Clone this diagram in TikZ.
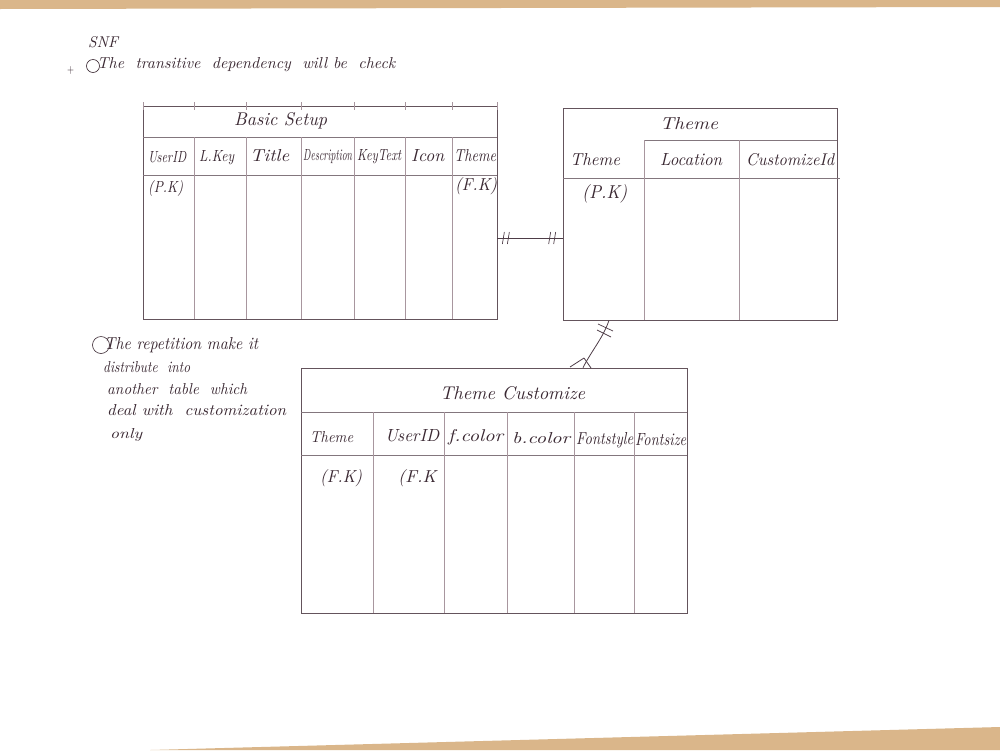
\documentclass[tikz,border=0pt]{standalone}
\usetikzlibrary{calc}
\definecolor{ink}{RGB}{58,40,50}
\definecolor{rule}{RGB}{100,84,92}
\definecolor{faint}{RGB}{168,150,158}
\definecolor{wood}{RGB}{218,182,138}
% handwritten-looking label: box width and height in pt
\newcommand\hw[3]{\resizebox{#1pt}{#2pt}{\itshape #3}}
\begin{document}
\begin{tikzpicture}[x=1pt,y=-1pt,
  hand/.style={text=ink,inner sep=0pt,anchor=west},
  tablebox/.style={draw=rule,line width=0.7pt,inner sep=0pt,fill=none},
  gridline/.style={draw=faint,line width=0.5pt},
  sepline/.style={draw=rule!80,line width=0.6pt},
  conn/.style={draw=ink!90,line width=0.8pt},
  tick/.style={draw=ink!90,line width=0.7pt}]
\useasboundingbox (0,0) rectangle (1000,750);
% sheet on the desk
\fill[white] (0,0) rectangle (1000,750);
\fill[wood] (0,0) -- (1000,0) -- (1000,7) -- (0,9) -- cycle;
\fill[wood] (150,750) -- (1000,727) -- (1000,750) -- cycle;

% heading notes
\node[hand] (nf) at (88,42) {\hw{30}{11}{SNF}};
\node[hand] (plus) at (67,70) {\hw{7}{7}{$+$}};
\draw[ink,line width=0.6pt] (93,66) circle (6.5);
\node[hand] (note1) at (97,65) {\hw{298}{11}{The\ \ transitive\ \ dependency\ \ will\ be\ \ check}};

% left remark
\draw[ink,line width=0.6pt] (101,345) circle (8.5);
\node[hand] (r1) at (104,345) {\hw{154}{12}{The repetition make it}};
\node[hand] (r2) at (103,367) {\hw{87}{11}{distribute\ \ into}};
\node[hand] (r3) at (107,389) {\hw{140}{11}{another\ \ table\ \ which}};
\node[hand] (r4) at (107,410) {\hw{179}{11}{deal with\ \ customization}};
\node[hand] (r5) at (110,435) {\hw{32}{10}{only}};

% ---- Basic Setup ----
\node[tablebox,minimum width=354pt,minimum height=213pt] (basic) at (320,212.5) {};
\draw[sepline] (143,137) -- (497,137);
\draw[sepline] (143,175) -- (497,175);
\foreach \cx in {194,246,301,354,405,452}
  \draw[gridline] (\cx,137) -- (\cx,319);
\foreach \cx in {143,194,246,301,354,405,452,497}
  \draw[gridline] (\cx,102) -- (\cx,110);
\node[hand] (bt) at (234,121) {\hw{93}{13}{Basic Setup}};
\node[hand] (b1) at (148,157) {\hw{38}{11}{UserID}};
\node[hand] (b2) at (199,158) {\hw{35}{11}{L.Key}};
\node[hand] (b3) at (250,156) {\hw{39}{12}{Title}};
\node[hand] (b4) at (303,157) {\hw{49}{11}{Description}};
\node[hand] (b5) at (357,157) {\hw{44}{11}{KeyText}};
\node[hand] (b6) at (411,156) {\hw{33}{12}{Icon}};
\node[hand] (b7) at (454,156) {\hw{42}{12}{Theme}};
\node[hand] (bpk) at (148,188) {\hw{35}{12}{(P.K)}};
\node[hand] (bfk) at (455,186) {\hw{42}{13}{(F.K)}};

% ---- Theme ----
\node[tablebox,minimum width=274pt,minimum height=212pt] (theme) at (700,214) {};
\draw[sepline] (644,140) -- (837,140);
\draw[sepline] (563,178) -- (840,178);
\foreach \cx in {644,739}
  \draw[gridline] (\cx,140) -- (\cx,320);
\node[hand] (tt) at (660,124) {\hw{58}{12}{Theme}};
\node[hand] (t1) at (570,160) {\hw{50}{12}{Theme}};
\node[hand] (t2) at (660,160) {\hw{62}{12}{Location}};
\node[hand] (t3) at (746,160) {\hw{88}{12}{CustomizeId}};
\node[hand] (tpk) at (582,194) {\hw{45}{14}{(P.K)}};

% ---- Theme Customize ----
\node[tablebox,minimum width=386pt,minimum height=245pt] (cust) at (494,490.5) {};
\draw[sepline] (301,412) -- (687,412);
\draw[sepline] (301,455) -- (687,455);
\foreach \cx in {373,444,507,574,634}
  \draw[gridline] (\cx,412) -- (\cx,613);
\node[hand] (ct) at (440,393) {\hw{145}{13}{Theme Customize}};
\node[hand] (c1) at (310,437) {\hw{43}{11}{Theme}};
\node[hand] (c2) at (385,436) {\hw{54}{12}{UserID}};
\node[hand] (c3) at (448,437) {\hw{55}{12}{f.color}};
\node[hand] (c4) at (512,438) {\hw{58}{11}{b.color}};
\node[hand] (c5) at (576,440) {\hw{57}{12}{Fontstyle}};
\node[hand] (c6) at (635,440) {\hw{51}{12}{Fontsize}};
\node[hand] (cf1) at (320,478) {\hw{42}{13}{(F.K)}};
\node[hand] (cf2) at (398,478) {\hw{38}{13}{(F.K}};

% ---- relationships ----
% Basic Setup -- Theme : one to one
\coordinate (bs) at (basic.east |- 0,238);
\coordinate (te) at (theme.west |- 0,238);
\draw[conn] (bs) -- (te);
\draw[tick] ($(bs)+(7,-6)$) -- ($(bs)+(5,6)$);
\draw[tick] ($(bs)+(12,-6)$) -- ($(bs)+(10,6)$);
\draw[tick] ($(te)+(-12,-6)$) -- ($(te)+(-14,6)$);
\draw[tick] ($(te)+(-7,-6)$) -- ($(te)+(-9,6)$);

% Theme -- Theme Customize : one to many
\coordinate (ts) at (theme.south -| 609,0);
\coordinate (cn) at (cust.north -| 583,0);
\draw[conn] (ts) .. controls (603,338) and (592,350) .. (cn);
\draw[tick] (598,324) -- (613,331);
\draw[tick] (597,330) -- (611,337);
\draw[conn] (584,358) -- (570,367);
\draw[conn] (584,358) -- (591,368);
\end{tikzpicture}
\end{document}
